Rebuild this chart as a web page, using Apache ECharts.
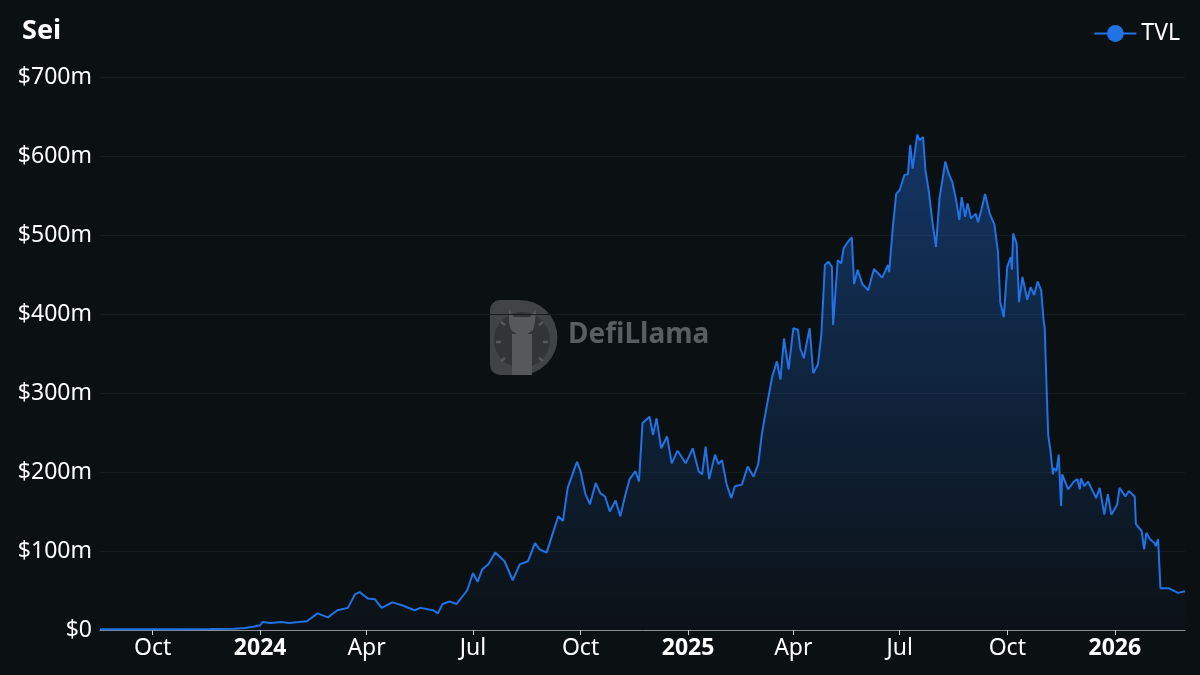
<!DOCTYPE html>
<html>
<head>
<meta charset="utf-8">
<title>Sei TVL</title>
<script src="https://cdn.jsdelivr.net/npm/echarts@6/dist/echarts.min.js"></script>
<style>
  html, body { margin: 0; padding: 0; background: #0b1013; }
  #chart { width: 1200px; height: 675px; }
</style>
</head>
<body>
<div id="chart"></div>
<script>
// TVL, in $ millions
const dates = [
  "2023-08-17", "2023-09-15", "2023-10-20", "2023-11-20", "2023-12-10", "2023-12-19", "2023-12-26",
  "2024-01-01", "2024-01-03", "2024-01-10", "2024-01-19", "2024-01-26", "2024-02-03", "2024-02-10",
  "2024-02-19", "2024-02-28", "2024-03-07", "2024-03-16", "2024-03-22", "2024-03-26", "2024-04-02",
  "2024-04-08", "2024-04-14", "2024-04-23", "2024-05-02", "2024-05-12", "2024-05-17", "2024-05-28",
  "2024-06-01", "2024-06-05", "2024-06-11", "2024-06-17", "2024-06-26", "2024-07-01", "2024-07-05",
  "2024-07-09", "2024-07-14", "2024-07-20", "2024-07-28", "2024-08-04", "2024-08-10", "2024-08-17",
  "2024-08-23", "2024-08-27", "2024-09-02", "2024-09-07", "2024-09-12", "2024-09-16", "2024-09-20",
  "2024-09-26", "2024-09-28", "2024-10-01", "2024-10-05", "2024-10-09", "2024-10-14", "2024-10-18",
  "2024-10-22", "2024-10-26", "2024-10-31", "2024-11-04", "2024-11-08", "2024-11-12", "2024-11-17",
  "2024-11-20", "2024-11-23", "2024-11-29", "2024-12-02", "2024-12-05", "2024-12-09", "2024-12-14",
  "2024-12-18", "2024-12-23", "2024-12-30", "2025-01-05", "2025-01-10", "2025-01-13", "2025-01-16",
  "2025-01-19", "2025-01-24", "2025-01-27", "2025-01-30", "2025-02-03", "2025-02-07", "2025-02-10",
  "2025-02-16", "2025-02-21", "2025-02-26", "2025-03-02", "2025-03-05", "2025-03-08", "2025-03-10",
  "2025-03-14", "2025-03-18", "2025-03-21", "2025-03-24", "2025-03-28", "2025-04-01", "2025-04-05",
  "2025-04-07", "2025-04-10", "2025-04-12", "2025-04-15", "2025-04-18", "2025-04-22", "2025-04-25",
  "2025-04-28", "2025-05-01", "2025-05-04", "2025-05-05", "2025-05-09", "2025-05-12", "2025-05-14",
  "2025-05-18", "2025-05-21", "2025-05-23", "2025-05-26", "2025-05-30", "2025-06-04", "2025-06-09",
  "2025-06-16", "2025-06-21", "2025-06-22", "2025-06-25", "2025-06-28", "2025-07-01", "2025-07-05",
  "2025-07-08", "2025-07-10", "2025-07-12", "2025-07-16", "2025-07-18", "2025-07-21", "2025-07-23",
  "2025-07-26", "2025-07-29", "2025-08-01", "2025-08-04", "2025-08-09", "2025-08-12", "2025-08-15",
  "2025-08-18", "2025-08-21", "2025-08-23", "2025-08-26", "2025-08-28", "2025-08-31", "2025-09-04",
  "2025-09-06", "2025-09-09", "2025-09-12", "2025-09-16", "2025-09-20", "2025-09-23", "2025-09-25",
  "2025-09-28", "2025-10-01", "2025-10-04", "2025-10-05", "2025-10-06", "2025-10-09", "2025-10-11",
  "2025-10-14", "2025-10-18", "2025-10-21", "2025-10-24", "2025-10-27", "2025-10-30", "2025-11-01",
  "2025-11-02", "2025-11-04", "2025-11-05", "2025-11-07", "2025-11-09", "2025-11-10", "2025-11-12",
  "2025-11-14", "2025-11-16", "2025-11-17", "2025-11-22", "2025-11-27", "2025-11-30", "2025-12-02",
  "2025-12-03", "2025-12-06", "2025-12-09", "2025-12-16", "2025-12-19", "2025-12-23", "2025-12-26",
  "2025-12-29", "2026-01-03", "2026-01-05", "2026-01-10", "2026-01-13", "2026-01-18", "2026-01-19",
  "2026-01-24", "2026-01-26", "2026-01-28", "2026-01-31", "2026-02-04", "2026-02-05", "2026-02-07",
  "2026-02-09", "2026-02-16", "2026-02-24", "2026-03-02"
];
const tvl = [
  0.8, 1, 1, 1.2, 1.5, 2.5, 4,
  6, 10, 9, 10, 9, 10, 11,
  21, 16, 25, 28, 45, 48, 40,
  39, 28, 35, 31, 25, 28, 25,
  21, 33, 36, 33, 50, 72, 61,
  77, 83, 98, 87, 63, 83, 87,
  110, 102, 98, 121, 144, 138, 180,
  205, 213, 201, 173, 159, 186, 173,
  169, 150, 164, 144, 169, 191, 201,
  188, 262, 270, 247, 268, 230, 245,
  211, 227, 211, 230, 201, 197, 232,
  191, 222, 210, 215, 184, 167, 182,
  184, 207, 194, 210, 247, 273, 289,
  321, 340, 317, 369, 330, 382, 380,
  356, 344, 360, 382, 325, 336, 374,
  462, 466, 460, 386, 468, 464, 483,
  492, 497, 438, 456, 438, 430, 457,
  446, 462, 453, 508, 552, 557, 576,
  577, 614, 584, 627, 620, 624, 582,
  554, 516, 485, 546, 593, 577, 567,
  546, 519, 548, 523, 540, 521, 527,
  516, 533, 552, 527, 513, 479, 415,
  396, 460, 472, 456, 502, 489, 415,
  447, 418, 434, 424, 441, 430, 393,
  382, 289, 247, 226, 197, 205, 201,
  222, 157, 197, 178, 188, 191, 178,
  192, 182, 188, 167, 180, 146, 172,
  146, 159, 180, 169, 176, 169, 134,
  125, 102, 123, 115, 110, 106, 115,
  53, 53, 47, 49
];
// x axis tick positions and their labels
const tickDates = ["2023-10-01", "2024-01-01", "2024-04-01", "2024-07-01", "2024-10-01",
                   "2025-01-01", "2025-04-01", "2025-07-01", "2025-10-01", "2026-01-01"];
const tickLabels = ["Oct", "2024", "Apr", "Jul", "Oct", "2025", "Apr", "Jul", "Oct", "2026"];

const FONT = "Noto Sans";
const toTime = d => Date.UTC(+d.slice(0, 4), +d.slice(5, 7) - 1, +d.slice(8, 10));
const tickTimes = tickDates.map(toTime);
const seriesData = dates.map((d, i) => [toTime(d), tvl[i]]);

const chart = echarts.init(document.getElementById("chart"));

const LOGO_LIGHT = "#55595c";
const tickMark = (x1, y1, x2, y2) => ({
  type: "line",
  shape: { x1: x1, y1: y1, x2: x2, y2: y2 },
  style: { stroke: LOGO_LIGHT, lineWidth: 2.5 }
});

const option = {
  backgroundColor: "#0b1013",
  animation: false,
  textStyle: { fontFamily: FONT },
  title: {
    text: "Sei",
    left: 17,
    top: 13,
    textStyle: { color: "#ffffff", fontSize: 27, fontWeight: "bold", fontFamily: FONT }
  },
  legend: {
    right: 15,
    top: 17,
    itemWidth: 42,
    itemHeight: 21,
    itemGap: 10,
    textStyle: { color: "#ffffff", fontSize: 23, fontFamily: FONT },
    data: ["TVL"]
  },
  grid: { left: 100, right: 15, top: 77, bottom: 45 },
  xAxis: {
    // timestamps on a plain value axis, ticks placed at the quarter starts
    type: "value",
    min: toTime(dates[0]),
    max: toTime(dates[dates.length - 1]),
    axisLine: { lineStyle: { color: "#8a8f93", width: 1 } },
    axisTick: { show: true, customValues: tickTimes, length: 5, lineStyle: { color: "#c8cbcd" } },
    splitLine: { show: false },
    axisLabel: {
      customValues: tickTimes,
      margin: 7,
      color: "#ffffff",
      fontSize: 23,
      fontFamily: FONT,
      formatter: function (val) {
        const i = tickTimes.indexOf(val);
        const s = i >= 0 ? tickLabels[i] : "";
        return /^\d{4}$/.test(s) ? "{y|" + s + "}" : s;
      },
      rich: { y: { fontWeight: "bold", fontSize: 23, color: "#ffffff", fontFamily: FONT } }
    }
  },
  yAxis: {
    type: "value",
    min: 0,
    max: 700,
    interval: 100,
    axisLine: { show: false },
    axisTick: { show: false },
    splitLine: { lineStyle: { color: "#161c20", width: 1 } },
    axisLabel: {
      margin: 8,
      color: "#ffffff",
      fontSize: 23,
      fontFamily: FONT,
      formatter: v => (v === 0 ? "$0" : "$" + v + "m")
    }
  },
  graphic: [
    {
      // DefiLlama watermark
      type: "group",
      left: 490,
      top: 300,
      silent: true,
      z: 0,
      children: [
        { type: "rect", shape: { x: 0, y: 0, width: 31, height: 75, r: [10, 0, 0, 10] }, style: { fill: "#404447" } },
        {
          type: "sector",
          shape: { cx: 30, cy: 37.5, r: 37.5, r0: 0, startAngle: -Math.PI / 2, endAngle: Math.PI / 2, clockwise: true },
          style: { fill: "#404447" }
        },
        { type: "circle", shape: { cx: 32, cy: 40, r: 28 }, style: { fill: "#313538" } },
        {
          type: "polygon",
          shape: { points: [[19, 9], [24, 17], [40, 17], [46, 9], [45, 22], [43, 30], [36, 35], [34, 39], [30, 39], [28, 35], [21, 30], [19, 22]] },
          style: { fill: LOGO_LIGHT }
        },
        { type: "rect", shape: { x: 22, y: 34, width: 20, height: 41 }, style: { fill: LOGO_LIGHT } },
        tickMark(11, 22, 15, 25),
        tickMark(6, 42, 11, 42),
        tickMark(11, 61, 15, 58),
        tickMark(53, 22, 49, 25),
        tickMark(58, 42, 53, 42),
        tickMark(53, 61, 49, 58)
      ]
    },
    {
      type: "text",
      left: 568,
      top: 321,
      silent: true,
      z: 0,
      style: { text: "DefiLlama", fill: "#5a5e61", fontSize: 28, fontWeight: "bold", fontFamily: FONT }
    }
  ],
  series: [
    {
      name: "TVL",
      type: "line",
      data: seriesData,
      symbol: "circle",
      symbolSize: 8,
      showSymbol: false,
      z: 5,
      lineStyle: { color: "#2172e5", width: 2 },
      itemStyle: { color: "#2172e5" },
      areaStyle: {
        color: new echarts.graphic.LinearGradient(0, 0, 0, 1, [
          { offset: 0, color: "rgba(33,114,229,0.55)" },
          { offset: 1, color: "rgba(33,114,229,0.02)" }
        ])
      }
    }
  ]
};

chart.setOption(option);
window.onresize = () => chart.resize();
</script>
</body>
</html>
